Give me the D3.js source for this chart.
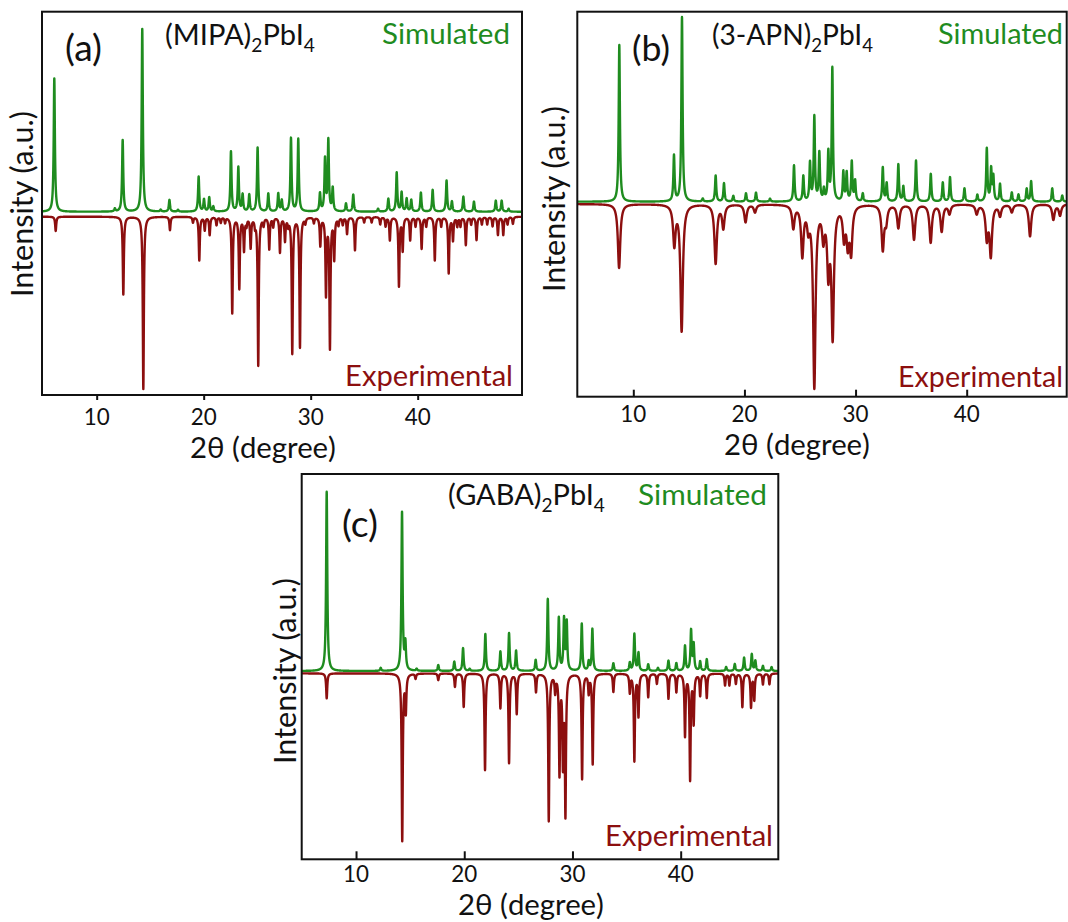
<!DOCTYPE html>
<html><head><meta charset="utf-8">
<script src="https://cdn.jsdelivr.net/npm/d3@7"></script>
<style>body{margin:0;background:#fff} svg{display:block}</style>
</head><body>
<svg id="chart" width="1068" height="922"></svg>
<script>
// ---------------- DATA (2θ in degrees, intensity in a.u.) ----------------
const tickValues = [10, 20, 30, 40];
const panelLetters = ["(a)", "(b)", "(c)"];
const compoundNames = ["MIPA", "3-APN", "GABA"];
const seriesNames = ["Simulated", "Experimental"];
const xLabel = "2θ (degree)";
const yLabel = "Intensity (a.u.)";

// (a) (MIPA)2PbI4
const aSimulated = [[6.04,73],[11.7,1.6],[12.43,39.2],[14.26,100],[15.98,1],[16.8,6.4],[17.6,1],[19.53,19.1],[20.03,6.6],[20.52,7.7],[20.9,2.7],[22.55,32.8],[23.24,24.1],[23.64,9.1],[24.26,9.1],[25.04,35],[26.04,9.8],[26.97,9.8],[27.3,6],[28.16,40.1],[28.84,39.6],[30.87,9.8],[31.34,28.3],[31.65,38.7],[32.06,12.6],[33.3,4.4],[33.98,9.3],[36.3,1.6],[37.26,7],[38.04,21.3],[38.5,10.4],[38.97,7],[39.4,6.4],[40.3,10.4],[41.4,11.9],[42.7,17],[43.2,5.5],[44.27,8.2],[45.26,5.5],[47.3,6],[47.85,6],[48.5,1.6]];
const aExperimental = [[6.17,7.8],[12.49,42.5],[14.36,94.3],[16.85,7.3],[19.0,3],[19.59,23.7],[20.1,7.1],[20.56,9.8],[21.2,4.4],[21.6,3],[22.0,3],[22.67,52.5],[23.33,38.8],[23.77,17.9],[24.0,4],[24.39,16.4],[24.8,4],[25.1,81.1],[25.6,4],[26.13,17.3],[26.5,5],[27.13,19.1],[27.6,12.6],[27.9,4],[28.28,74.4],[29.0,71.1],[29.5,3],[30.3,3],[30.9,15.3],[31.43,42],[31.8,71.1],[32.2,22.3],[32.6,4],[33.0,4],[33.4,9.1],[34.14,18.2],[35.0,3],[35.7,3],[36.5,4],[37.0,5],[37.4,12.6],[38.25,37.7],[38.6,18],[39.3,12.6],[39.8,5],[40.37,17.3],[40.8,5],[41.6,23.7],[42.2,5],[42.9,30.6],[43.3,12.6],[43.7,5],[44.0,5],[44.5,15.3],[45.0,4],[45.5,12.6],[46.0,4],[46.5,4],[47.0,5],[47.5,9.8],[48.0,9.8],[48.4,4],[48.9,3.8]];

// (b) (3-APN)2PbI4
const bSimulated = [[8.74,85],[13.66,24.8],[14.38,100],[16.25,1.6],[17.41,14.1],[18.16,9.9],[19.0,3.1],[20.14,4.5],[21.04,4.9],[22.3,1.6],[24.46,19.5],[25.3,13.6],[25.9,20.5],[26.29,45.6],[26.74,25.9],[27.15,6],[27.55,25.9],[27.91,72],[28.9,15.7],[29.2,15.2],[29.66,21.3],[29.96,10.9],[30.65,4.3],[32.45,18.4],[32.8,9.8],[33.85,20.1],[34.3,8.1],[35.44,22.2],[36.77,15],[37.85,10.3],[38.5,13.2],[39.8,7.2],[40.96,3.6],[41.81,28.6],[42.2,17.2],[42.4,13],[43.0,9.4],[44.06,4.9],[44.66,3.8],[45.4,6.9],[45.8,11],[47.7,7.2],[48.6,3.3]];
const bExperimental = [[8.72,34.6],[13.69,21.3],[14.35,68.4],[17.41,31.9],[18.1,12.6],[20.1,9.6],[20.95,4.2],[24.4,12.3],[25.21,26.8],[25.75,10.5],[26.29,98],[27.1,15.9],[27.55,34],[27.94,69.8],[28.96,16.8],[29.3,19.5],[29.6,24.6],[32.45,24],[32.75,8.7],[33.85,12.6],[35.26,19],[36.76,20.5],[37.75,14.5],[38.45,5],[40.9,5],[41.81,17.7],[42.17,27.1],[43.0,6],[44.06,4.2],[45.7,17.4],[47.8,8.3],[48.4,6]];

// (c) (GABA)2PbI4
const cSimulated = [[7.29,100],[12.28,1.7],[14.25,88.3],[14.56,14.5],[15.6,1.1],[17.6,3.3],[19.08,5.2],[19.89,12.7],[20.5,1.1],[21.95,20.6],[23.34,10.8],[24.14,21],[24.79,11.2],[26.6,6.1],[27.72,40],[28.74,29.4],[29.22,28.4],[29.47,26.6],[30.86,26.2],[31.5,5],[31.84,23.3],[33.78,4.3],[35.3,4.5],[35.72,20.5],[36.1,9.9],[37.0,3.7],[37.9,1.7],[38.87,5.7],[39.6,4.3],[40.4,13.9],[40.96,22.3],[41.2,14.5],[41.8,5.2],[42.41,6.5],[44.2,2.2],[45.0,3.9],[45.86,7.4],[46.57,9.3],[46.9,5.6],[47.6,2.8],[48.4,2.2]];
const cExperimental = [[7.29,13.9],[14.27,93],[14.6,20.5],[15.5,2.8],[17.6,3.7],[19.14,7.4],[19.95,18.6],[21.92,53.9],[23.34,19.1],[24.14,49.8],[24.85,22.3],[26.63,10.2],[27.81,82],[28.4,9.3],[28.8,55],[29.12,48],[29.35,77],[30.89,58.6],[31.5,10.2],[31.87,50.2],[33.78,10.2],[35.3,10.2],[35.72,48.4],[36.1,23.3],[37.0,13],[37.8,5.6],[38.87,13.9],[39.6,10.2],[40.4,34.4],[40.87,58.6],[41.2,26.9],[41.8,12.1],[42.41,13.4],[44.1,6.5],[44.5,6.5],[45.1,5.6],[45.7,18.6],[46.5,18.6],[46.8,14.5],[47.6,6],[48.2,6]];

// ---------------- LAYOUT / STYLE ----------------
const GREEN = "#1f8c1f", RED = "#8c0f0f";
const FONT = "Lato, 'Open Sans', sans-serif";
const panels = [
  {letter: panelLetters[0], name: compoundNames[0], sim: aSimulated, exp: aExperimental,
   x0: 42, x1: 522, y0: 11.7, y1: 395, xDom: [4.89, 49.75], yDom: [-100.3, 109.5], expOff: -2.7,
   simW: 0.13, expW: 0.12, tickLen: -5,
   letterPos: [65, 61, 37], namePos: [165, 45, 150], simPos: [510, 44], expPos: [513, 386],
   tickBase: 425, xLabPos: [263, 458], yLabPos: [33, 204], simFit: 128, expFit: 168},
  {letter: panelLetters[1], name: compoundNames[1], sim: bSimulated, exp: bExperimental,
   x0: 577.3, x1: 1066.7, y0: 11.7, y1: 396.7, xDom: [4.96, 49.0], yDom: [-105.8, 103.1], expOff: -1.25,
   simW: 0.13, expW: 0.26, tickLen: 7,
   letterPos: [632, 61, 38], namePos: [712, 45, 161], simPos: [1063, 44], expPos: [1063, 387],
   tickBase: 422, xLabPos: [797, 455], yLabPos: [565, 199], simFit: 125, expFit: 165},
  {letter: panelLetters[2], name: compoundNames[2], sim: cSimulated, exp: cExperimental,
   x0: 301.7, x1: 778.3, y0: 474, y1: 859.3, xDom: [4.98, 49.02], yDom: [-105, 109.9], expOff: -1.3,
   simW: 0.13, expW: 0.12, tickLen: 8,
   letterPos: [342, 537, 36], namePos: [448, 505, 157], simPos: [767, 505], expPos: [773, 846],
   tickBase: 882, xLabPos: [531, 915], yLabPos: [296, 671], simFit: 129, expFit: 168}
];

const svg = d3.select("#chart");

function fitText(sel, target) {
  const w = sel.node().getComputedTextLength();
  const fs = parseFloat(sel.attr("font-size"));
  if (w > 0) sel.attr("font-size", fs * target / w);
  return sel;
}

function profile(peaks, w, lo, hi, step, sign, off) {
  const pts = [];
  const g = w / 2;
  for (let t = lo; t <= hi + 1e-9; t += step) {
    let s = 0;
    for (const [p, h] of peaks) {
      const d = (t - p) / g;
      s += h / (1 + d * d);
    }
    pts.push([t, off + sign * s]);
  }
  return pts;
}

panels.forEach((P, i) => {
  const g = svg.append("g");
  const x = d3.scaleLinear().domain(P.xDom).range([P.x0, P.x1]);
  const y = d3.scaleLinear().domain(P.yDom).range([P.y1, P.y0]);
  const clipId = "clip" + i;
  svg.append("clipPath").attr("id", clipId).append("rect")
    .attr("x", P.x0).attr("y", P.y0).attr("width", P.x1 - P.x0).attr("height", P.y1 - P.y0);

  const line = d3.line().x(d => x(d[0])).y(d => y(d[1]));
  const plot = g.append("g").attr("clip-path", `url(#${clipId})`);
  plot.append("path").datum(profile(P.exp, P.expW, P.xDom[0], P.xDom[1], 0.005, -1, P.expOff))
    .attr("d", line).attr("fill", "none").attr("stroke", RED).attr("stroke-width", 2.4)
    .attr("stroke-linejoin", "round");
  plot.append("path").datum(profile(P.sim, P.simW, P.xDom[0], P.xDom[1], 0.005, 1, 0))
    .attr("d", line).attr("fill", "none").attr("stroke", GREEN).attr("stroke-width", 2.4)
    .attr("stroke-linejoin", "round");

  // frame
  g.append("rect").attr("x", P.x0).attr("y", P.y0).attr("width", P.x1 - P.x0).attr("height", P.y1 - P.y0)
    .attr("fill", "none").attr("stroke", "#111").attr("stroke-width", 2);

  // x axis ticks
  const axis = d3.axisBottom(x).tickValues(tickValues).tickSize(-P.tickLen).tickFormat("");
  const ax = g.append("g").attr("transform", `translate(0,${P.y1})`).call(axis);
  ax.select(".domain").remove();
  ax.selectAll(".tick line").attr("stroke", "#111").attr("stroke-width", 2);
  tickValues.forEach(v => {
    fitText(g.append("text").attr("x", x(v)).attr("y", P.tickBase).attr("text-anchor", "middle")
      .attr("font-family", FONT).attr("font-size", 26).attr("fill", "#111").text(String(v)), 26);
  });

  // axis labels
  fitText(g.append("text").attr("x", P.xLabPos[0]).attr("y", P.xLabPos[1]).attr("text-anchor", "middle")
    .attr("font-family", FONT).attr("font-size", 30).attr("fill", "#111").text(xLabel), 146);
  fitText(g.append("text").attr("transform", `translate(${P.yLabPos[0]},${P.yLabPos[1]}) rotate(-90)`)
    .attr("text-anchor", "middle").attr("font-family", FONT).attr("font-size", 30).attr("fill", "#111")
    .text(yLabel), 186);

  // panel letter
  fitText(g.append("text").attr("x", P.letterPos[0]).attr("y", P.letterPos[1])
    .attr("font-family", FONT).attr("font-size", 32).attr("fill", "#111").text(P.letter), P.letterPos[2]);

  // compound name with subscripts
  const nm = g.append("text").attr("x", P.namePos[0]).attr("y", P.namePos[1])
    .attr("font-family", FONT).attr("font-size", 30).attr("fill", "#111");
  nm.append("tspan").text("(" + P.name + ")");
  nm.append("tspan").attr("font-size", "0.66em").attr("dy", "0.35em").text("2");
  nm.append("tspan").attr("dy", "-0.23em").text("PbI");
  nm.append("tspan").attr("font-size", "0.66em").attr("dy", "0.35em").text("4");
  fitText(nm, P.namePos[2]);

  // series labels
  fitText(g.append("text").attr("x", P.simPos[0]).attr("y", P.simPos[1]).attr("text-anchor", "end")
    .attr("font-family", FONT).attr("font-size", 30).attr("fill", GREEN).text(seriesNames[0]), P.simFit);
  fitText(g.append("text").attr("x", P.expPos[0]).attr("y", P.expPos[1]).attr("text-anchor", "end")
    .attr("font-family", FONT).attr("font-size", 30).attr("fill", RED).text(seriesNames[1]), P.expFit);
});
</script>
</body></html>
